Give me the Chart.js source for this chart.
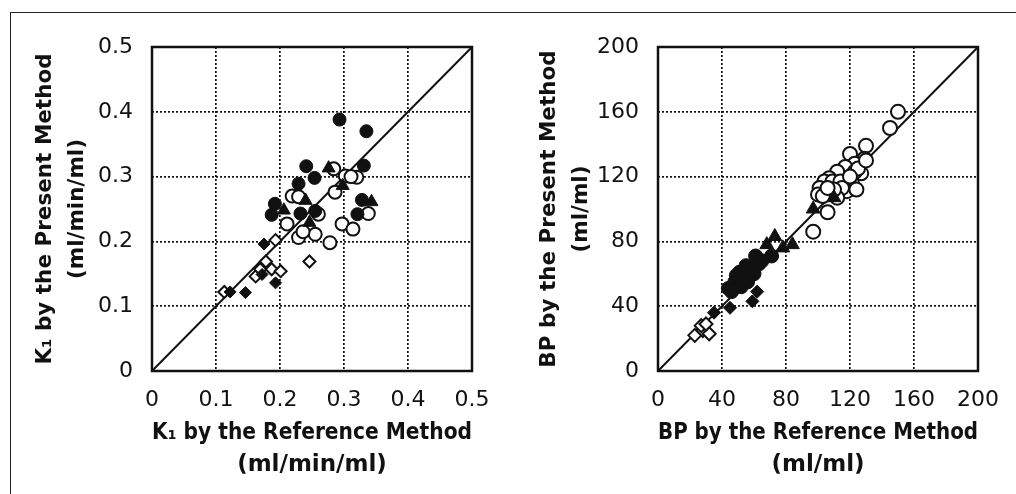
<!DOCTYPE html>
<html>
<head>
<meta charset="utf-8">
<script src="https://cdn.jsdelivr.net/npm/chart.js@4.4.1/dist/chart.umd.min.js"></script>
<style>
  html, body { margin: 0; padding: 0; background: #fff; }
  body { width: 1016px; height: 494px; position: relative; overflow: hidden; }
  #frame { position: absolute; left: 10px; top: 12px; width: 1100px; height: 600px;
           border-left: 1.5px solid #222; border-top: 1.5px solid #222; }
  canvas { position: absolute; top: 0; }
  #k1Chart { left: 0; }
  #bpChart { left: 508px; }
</style>
</head>
<body>
<div id="frame"></div>
<canvas id="k1Chart" width="508" height="494"></canvas>
<canvas id="bpChart" width="508" height="494"></canvas>
<script>
// K1 패널 (x: reference, y: present)
const k1FilledCircle = [[0.293,0.388],[0.335,0.370],[0.331,0.317],[0.241,0.316],[0.254,0.298],[0.229,0.289],
    [0.192,0.258],[0.187,0.241],[0.232,0.243],[0.255,0.247],[0.328,0.264],[0.321,0.242]];
const k1FilledTriangle = [[0.276,0.313],[0.206,0.248],[0.240,0.263],[0.246,0.229],[0.298,0.286],[0.343,0.261]];
const k1OpenCircle = [[0.284,0.312],[0.302,0.301],[0.320,0.299],[0.286,0.276],[0.211,0.227],[0.229,0.206],
    [0.255,0.211],[0.278,0.198],[0.297,0.227],[0.314,0.219],[0.338,0.243],[0.219,0.270],[0.229,0.269],
    [0.260,0.242],[0.236,0.215],[0.311,0.300]];
const k1FilledDiamond = [[0.175,0.196],[0.193,0.136],[0.146,0.121],[0.122,0.122],[0.172,0.149]];
const k1OpenDiamond = [[0.193,0.202],[0.246,0.169],[0.178,0.169],[0.162,0.146],[0.187,0.157],[0.201,0.154],
    [0.113,0.122],[0.169,0.157]];
const k1Ticks = [0, 0.1, 0.2, 0.3, 0.4, 0.5];

// BP 패널
const bpOpenCircle = [[150,160],[145,150],[130,139],[120,134],[129,131],[123,128],[117,126],[112,123],[107,119],
    [104,117],[101,113],[100,109],[103,108],[109,117],[114,117],[127,122],[121,117],[118,111],[115,113],
    [112,107],[106,98],[97,86],[123,123],[125,125],[130,130],[120,120],[110,112],[106,113],[124,112]];
const bpFilledTriangle = [[110,107],[97,100],[73,83],[68,78],[84,78],[78,76]];
const bpFilledCircle = [[71,71],[65,68],[61,71],[58,63],[55,65],[51,61],[49,59],[54,57],[48,55],[44,51],
    [46,49],[52,52],[56,55],[60,60],[63,66]];
const bpFilledDiamond = [[62,49],[59,43],[45,39],[35,36]];
const bpOpenDiamond = [[23,22],[28,25],[32,23],[27,28],[30,29]];
const bpTicks = [0, 40, 80, 120, 160, 200];

const toXY = arr => arr.map(p => ({x: p[0], y: p[1]}));

// 플롯 영역 테두리
const framePlugin = {
    id: 'frame',
    afterDatasetsDraw(chart) {
        const a = chart.chartArea;
        const ctx = chart.ctx;
        ctx.save();
        ctx.strokeStyle = '#111';
        ctx.lineWidth = 2.5;
        ctx.strokeRect(a.left, a.top, a.right - a.left, a.bottom - a.top);
        ctx.restore();
    }
};

function markerSet(data, style, filled, radius) {
    return {
        type: 'scatter',
        data: toXY(data),
        pointStyle: style,
        pointRadius: radius,
        backgroundColor: filled ? '#111' : '#fff',
        borderColor: '#111',
        borderWidth: filled ? 1 : 2
    };
}

function makeChart(id, cfg) {
    const ticks = cfg.ticks;
    const max = ticks[ticks.length - 1];
    const step = ticks[1] - ticks[0];
    const tickFont = {family: 'DejaVu Sans', size: 22};
    const xTitleFont = {family: 'DejaVu Sans', size: 23, weight: 'bold', lineHeight: 1.4};
    const yTitleFont = {family: 'DejaVu Sans', size: 21.5, weight: 'bold', lineHeight: 1.47};
    const axisBase = {
        type: 'linear', min: 0, max: max,
        grid: {color: '#111', lineWidth: 1.7, drawTicks: false},
        border: {display: false, dash: [2, 2]}
    };
    return new Chart(document.getElementById(id), {
        data: {
            datasets: [
                markerSet(cfg.filledCircle, 'circle', true, cfg.r),
                markerSet(cfg.filledTriangle, 'triangle', true, cfg.r + 1),
                markerSet(cfg.filledDiamond, 'rectRot', true, cfg.r - 0.5),
                markerSet(cfg.openCircle, 'circle', false, cfg.r),
                markerSet(cfg.openDiamond, 'rectRot', false, cfg.r - 0.5),
                {
                    type: 'line',
                    data: [{x: 0, y: 0}, {x: max, y: max}],
                    borderColor: '#111', borderWidth: 2, pointRadius: 0
                }
            ]
        },
        options: {
            responsive: false,
            animation: false,
            devicePixelRatio: 1,
            layout: {padding: {top: 47, right: cfg.padRight, left: 0, bottom: 0}},
            plugins: {legend: {display: false}, tooltip: {enabled: false}},
            scales: {
                x: Object.assign({}, axisBase, {
                    position: 'bottom',
                    ticks: {stepSize: step, color: '#111', font: tickFont, padding: 16, maxRotation: 0},
                    title: {display: true, text: cfg.xTitle, color: '#111', font: xTitleFont, padding: {bottom: 13}},
                    afterFit: s => { s.height = 123; }
                }),
                y: Object.assign({}, axisBase, {
                    position: 'left',
                    ticks: {stepSize: step, color: '#111', font: tickFont, padding: 19},
                    title: {display: true, text: cfg.yTitle, color: '#111', font: yTitleFont, padding: {top: cfg.yTitlePad}},
                    afterFit: s => { s.width = cfg.yWidth; }
                })
            }
        },
        plugins: [framePlugin]
    });
}

makeChart('k1Chart', {
    ticks: k1Ticks,
    filledCircle: k1FilledCircle, filledTriangle: k1FilledTriangle, filledDiamond: k1FilledDiamond,
    openCircle: k1OpenCircle, openDiamond: k1OpenDiamond,
    r: 6.5, padRight: 36, yWidth: 152, yTitlePad: 30,
    xTitle: ['K\u2081 by the Reference Method', '(ml/min/ml)'],
    yTitle: ['K\u2081 by the Present Method', '(ml/min/ml)']
});

makeChart('bpChart', {
    ticks: bpTicks,
    filledCircle: bpFilledCircle, filledTriangle: bpFilledTriangle, filledDiamond: bpFilledDiamond,
    openCircle: bpOpenCircle, openDiamond: bpOpenDiamond,
    r: 7, padRight: 38, yWidth: 150, yTitlePad: 26,
    xTitle: ['BP by the Reference Method', '(ml/ml)'],
    yTitle: ['BP by the Present Method', '(ml/ml)']
});
</script>
</body>
</html>
